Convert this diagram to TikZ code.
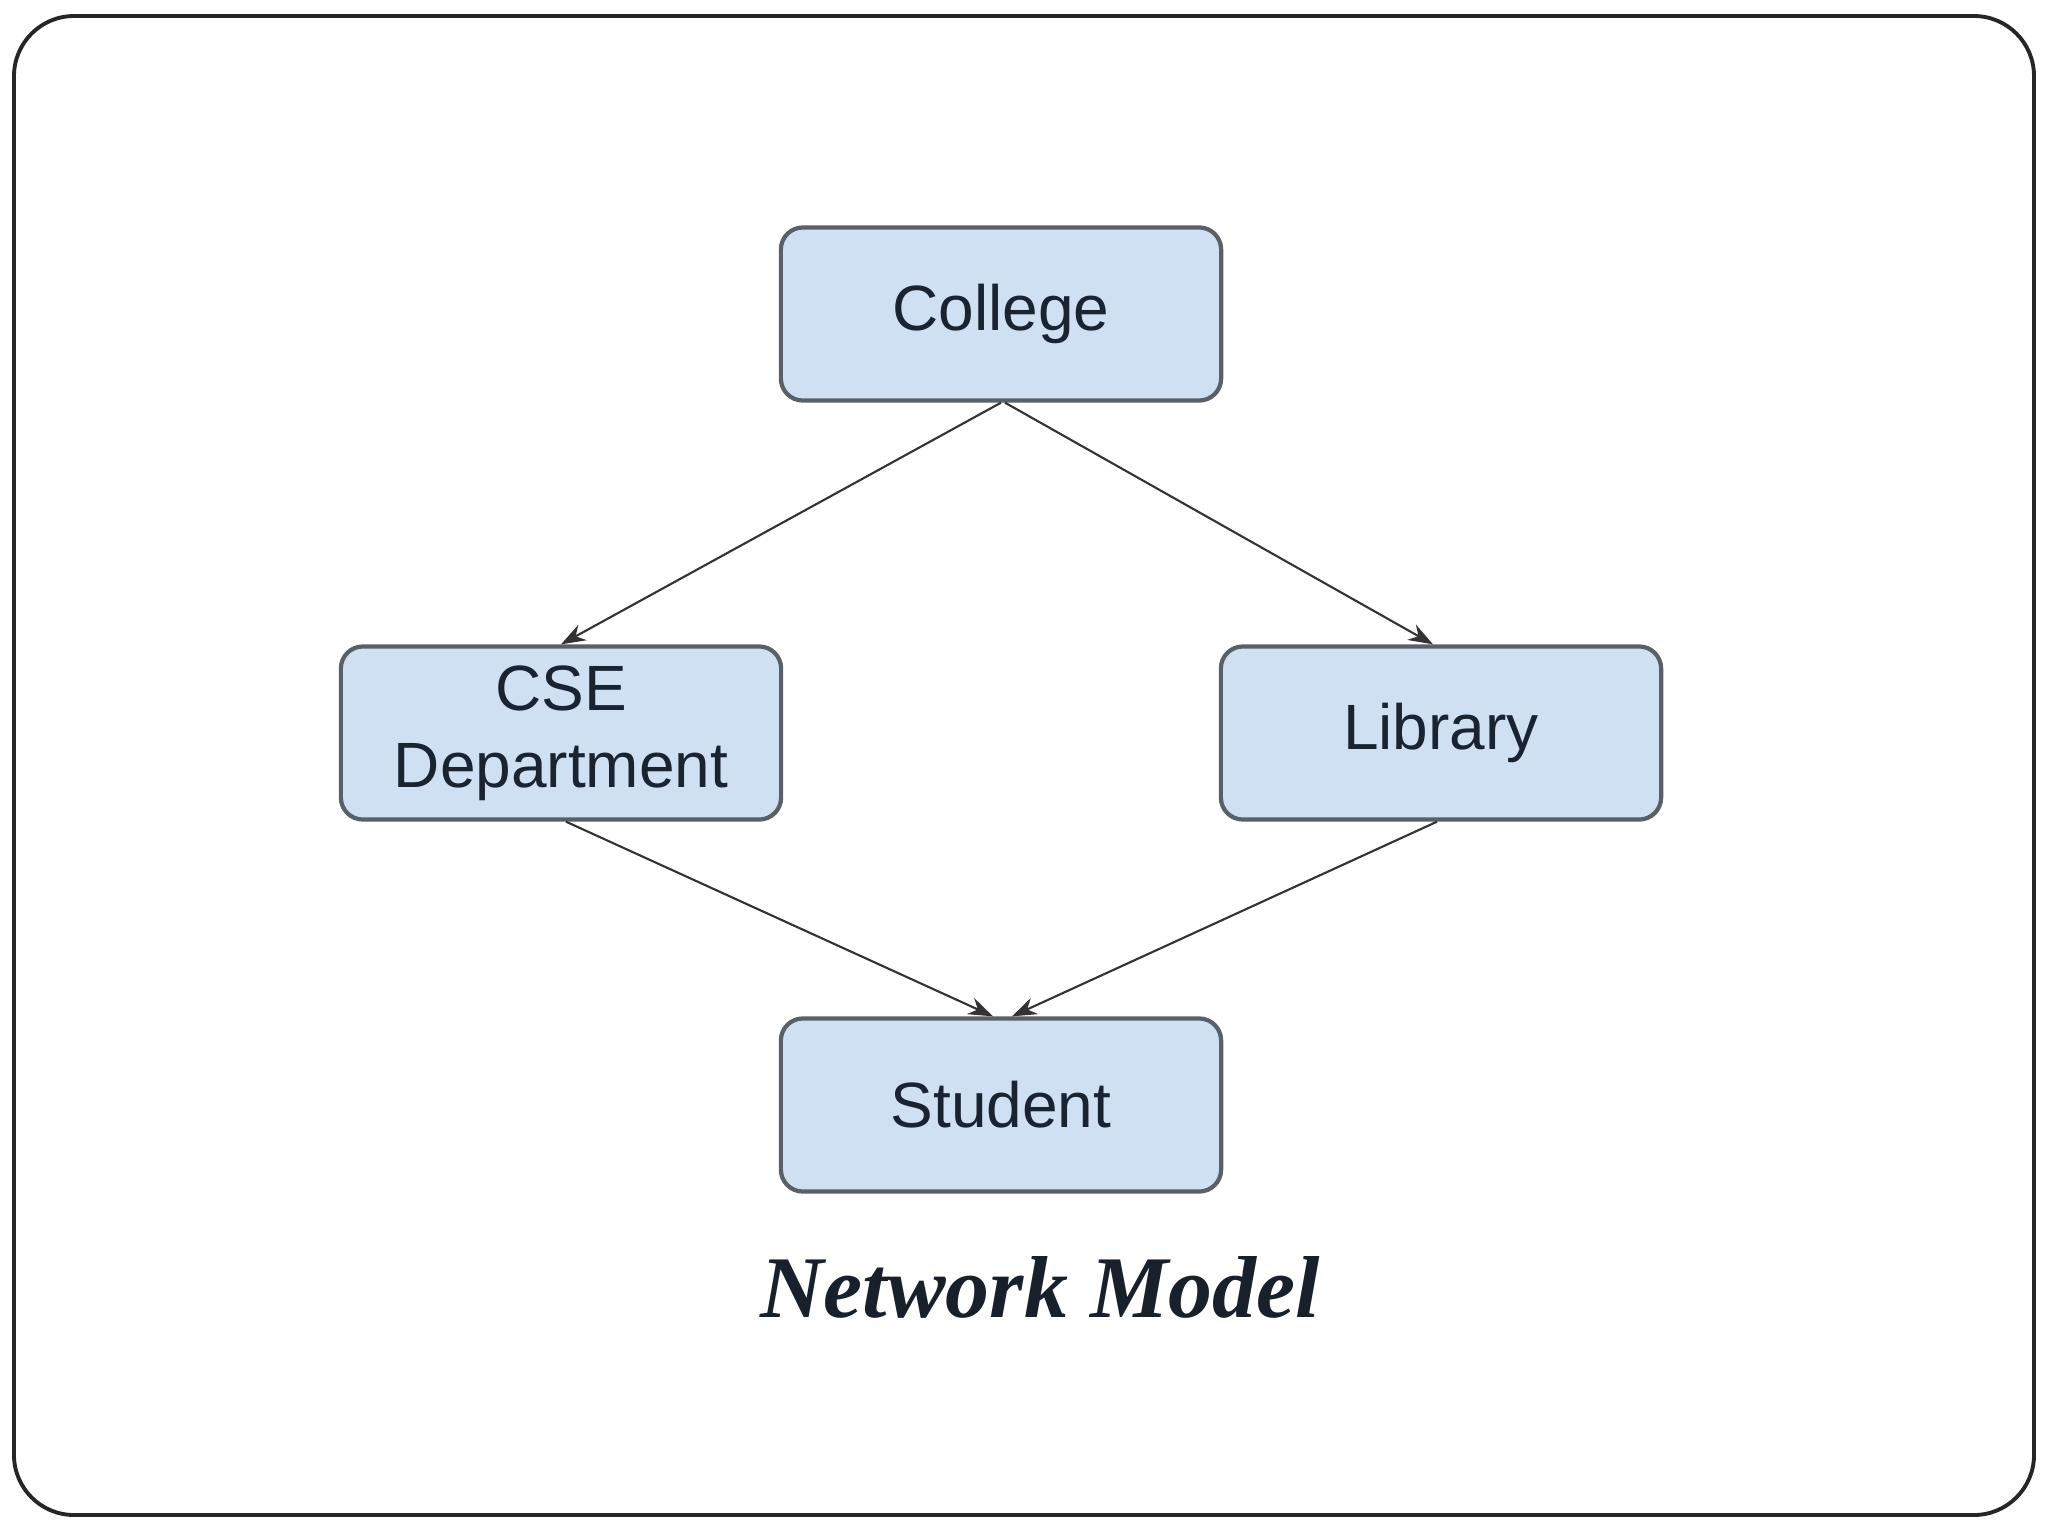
\documentclass[tikz,border=0pt]{standalone}
\usepackage{fontspec}
\setmainfont{Liberation Sans}
\newfontfamily\capfont{Liberation Serif}
\usetikzlibrary{arrows.meta}
\definecolor{boxfill}{HTML}{CFE0F2}
\definecolor{boxline}{HTML}{5A6068}
\definecolor{txt}{HTML}{1A2330}
\definecolor{conn}{HTML}{333333}
\tikzset{
  entity/.style={draw=boxline, line width=1.2pt, fill=boxfill, rounded corners=0.22cm,
    minimum width=4.4cm, minimum height=1.73cm, inner sep=0pt, align=center,
    text=txt, font=\fontsize{18.2pt}{22pt}\selectfont},
  link/.style={draw=conn, line width=0.6pt, -{Stealth[length=7pt,width=5pt]}}
}
\begin{document}
\begin{tikzpicture}[x=0.01cm,y=-0.01cm]
\useasboundingbox (0,0) rectangle (2048,1536);
\fill[white] (0,0) rectangle (2048,1536);
\draw[black!85, line width=1.1pt, rounded corners=0.6cm] (14,16) rectangle (2034,1515);
\node[entity] (college) at (1001,314) {College};
\node[entity] (cse) at (561,733) {CSE\\Department};
\node[entity] (lib) at (1441,733) {Library};
\node[entity] (stu) at (1001,1105) {Student};
\node[text=txt!90!black, font=\capfont\bfseries\itshape\fontsize{25pt}{30pt}\selectfont] (title) at (1040,1287) {Network Model};
\draw[link] (college.south) -- (cse.north);
\draw[link] ([xshift=0.04cm]college.south) -- ([xshift=-0.08cm]lib.north);
\draw[link] ([xshift=0.05cm]cse.south) -- ([xshift=-0.08cm]stu.north);
\draw[link] ([xshift=-0.04cm]lib.south) -- ([xshift=0.11cm]stu.north);
\end{tikzpicture}
\end{document}
